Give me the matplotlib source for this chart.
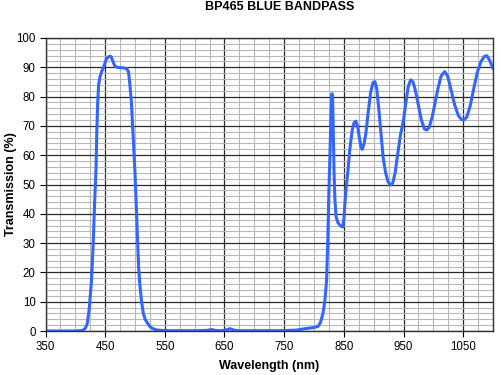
import matplotlib
matplotlib.use("Agg")
import matplotlib.pyplot as plt
from matplotlib.ticker import MultipleLocator

plt.rcParams['font.family'] = ['Liberation Sans', 'DejaVu Sans']

wavelength = [350, 400, 412, 417, 420, 423, 427, 430, 432, 434.6, 436, 437.5, 439, 441, 444, 447,
              449, 452, 455, 458, 460, 463, 466, 470, 475, 480, 486, 489, 491, 494, 496, 498,
              500, 502, 504, 506, 508, 511, 514, 517, 520, 525, 530, 535, 545, 560, 600, 620,
              628, 635, 645, 652, 659, 666, 675, 700, 740, 770, 785, 800, 807, 811, 815, 818,
              821, 823, 825, 827, 828.5, 830, 831, 832, 833.5, 835, 837, 840, 844, 848, 850,
              852, 854, 857, 860, 864, 867, 870, 873, 876, 879, 881, 884, 887, 891, 895, 899,
              902, 905, 908, 912, 916, 920, 924, 928, 932, 936, 940, 945, 950, 954, 958, 962,
              966, 970, 975, 980, 985, 989, 993, 998, 1003, 1008, 1013, 1019, 1024, 1030, 1036,
              1042, 1047, 1051, 1056, 1062, 1068, 1074, 1080, 1086, 1090, 1094, 1100]
transmission = [0, 0, 0.2, 1, 2.5, 7, 17, 30, 42, 55, 68, 78, 84, 86.5, 88.5, 89.8,
                91, 92.8, 93.5, 93.8, 93.6, 92, 90.5, 90, 89.9, 89.8, 89.6, 88.5, 85, 78, 70, 62,
                54, 43, 31, 22, 16, 10, 6, 4, 3, 1.5, 0.8, 0.4, 0.2, 0.1, 0.1, 0.2,
                0.5, 0.2, 0.1, 0.3, 0.8, 0.3, 0.1, 0.1, 0.1, 0.3, 0.8, 1.2, 1.6, 3, 6, 10,
                17, 30, 48, 62, 74, 81, 80, 72, 55, 45, 39, 37, 36, 35.5, 38,
                44, 49, 55, 62, 68.5, 71, 71.6, 70, 66, 62.5, 62, 64, 67.5, 75, 81.5, 84.8,
                85.1, 83, 77, 68, 59, 54, 51, 49.8, 50.5, 54, 60, 67, 72, 78, 83.5, 85.7,
                85, 82, 77, 72, 69, 68.6, 69.5, 73, 78, 83, 87, 88.5, 87, 82, 77,
                73.5, 72.2, 72, 73, 77, 83, 88.5, 92, 93.8, 93.9, 92.5, 89.6]

x_ticks = [350, 450, 550, 650, 750, 850, 950, 1050]
y_ticks = list(range(0, 101, 10))

fig = plt.figure(figsize=(5, 3.75), dpi=100)
ax = fig.add_axes([0.091, 0.1173, 0.895, 0.7814])

ax.set_xlim(350, 1100)
ax.set_ylim(0, 100)
ax.xaxis.set_minor_locator(MultipleLocator(25))
ax.yaxis.set_minor_locator(MultipleLocator(2))
ax.set_xticks(x_ticks)
ax.set_yticks(y_ticks)
ax.grid(which='minor', color='#b8b8b8', linewidth=0.8)
ax.grid(which='major', color='#2a2a2a', linewidth=0.9)
ax.set_axisbelow(True)
ax.tick_params(which='minor', length=0)
ax.tick_params(which='major', length=4, width=0.8, direction='out', labelsize=8.3, pad=3)
for s in ax.spines.values():
    s.set_linewidth(1.0)
    s.set_color('#333333')

ax.plot(wavelength, transmission, color='#3366ff', linewidth=2.2, solid_joinstyle='round',
        clip_on=True)

fig.text(269 / 500, 1 - 366 / 375, 'Wavelength (nm)', ha='center', va='center',
         fontsize=9, fontweight='bold')
fig.text(11 / 500, 1 - 184 / 375, 'Transmission (%)', ha='center', va='center',
         rotation=90, fontsize=9, fontweight='bold')
fig.text(280 / 500, 1 - 7.5 / 375, 'BP465 BLUE BANDPASS', ha='center', va='center',
         fontsize=9, fontweight='bold')

fig.savefig('out.png', dpi=100)
